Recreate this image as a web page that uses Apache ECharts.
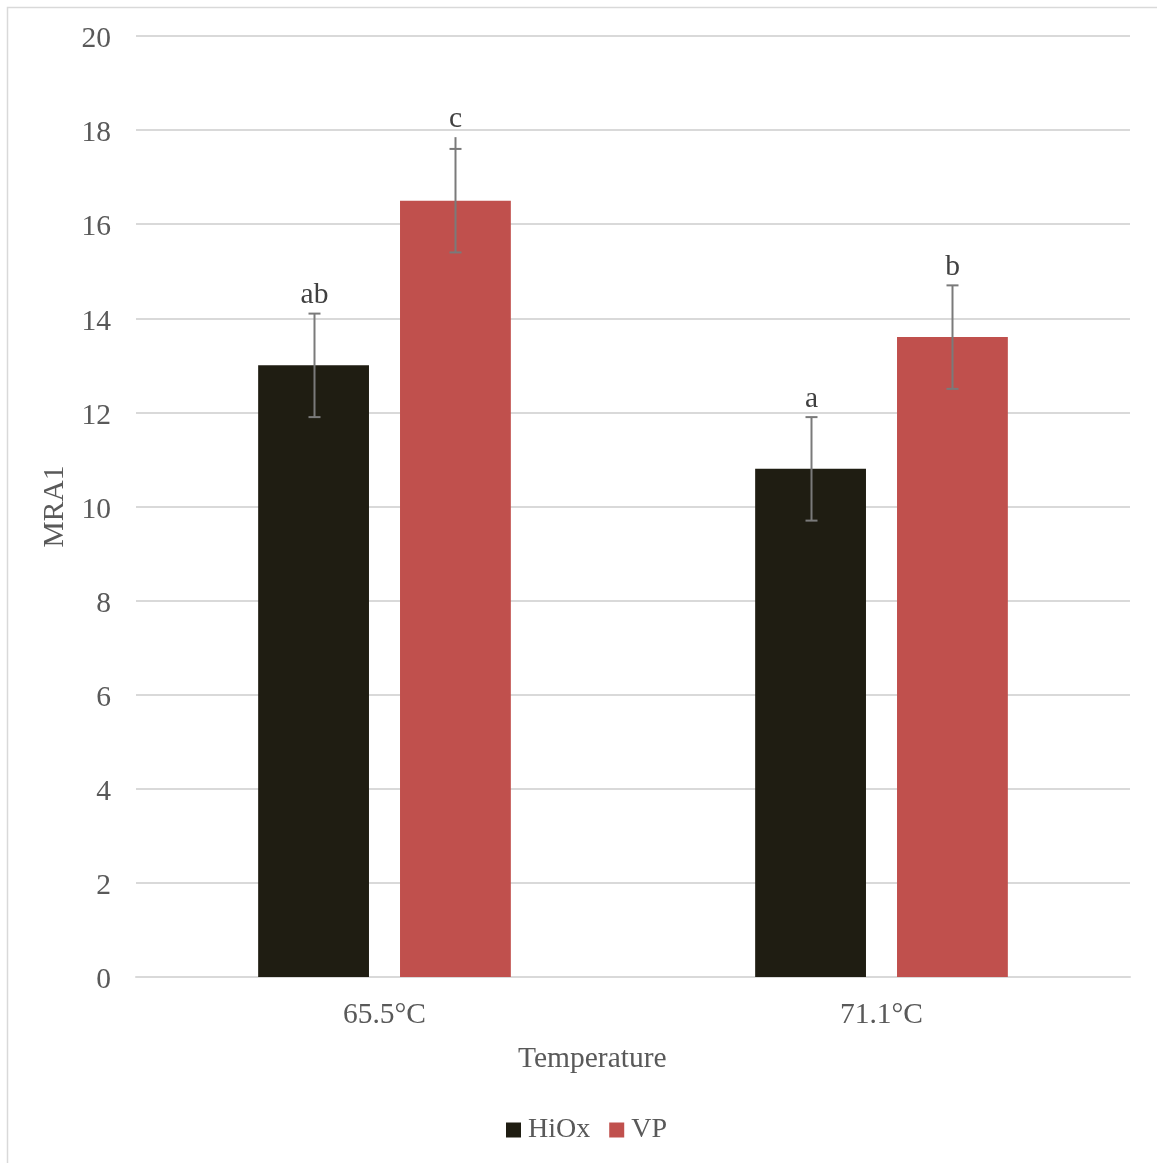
<!DOCTYPE html>
<html>
<head>
<meta charset="utf-8">
<script src="https://cdn.jsdelivr.net/npm/echarts@6/dist/echarts.min.js"></script>
<style>html,body{margin:0;padding:0;background:#fff}#c{width:1157px;height:1163px}</style>
</head>
<body>
<div id="c"></div>
<script>
const categories = ['65.5°C', '71.1°C'];
const seriesNames = ['HiOx', 'VP'];
const hiox = [13.0, 10.8];
const vp = [16.5, 13.6];
const hioxErr = [1.1, 1.1];
const vpErr = [1.1, 1.1];
// stem extends above the cap on one bar in the original
const hioxStemTop = [null, null];
const vpStemTop = [17.85, null];
const hioxLetters = ['ab', 'a'];
const vpLetters = ['c', 'b'];
const yTicks = { min: 0, max: 20, interval: 2 };

const FONT = '"Liberation Serif", "Times New Roman", serif';
const FS = 29.5;
const BAR_W = 0.223, BAR_GAP = 0.28;

function errSeries(values, errs, stemTops, letters, idx) {
  const data = values.map((v, i) => [i, v, errs[i], stemTops[i] == null ? v + errs[i] : stemTops[i]]);
  return {
    type: 'custom',
    z: 5,
    silent: true,
    data: data,
    encode: { x: 0, y: 1 },
    renderItem: function (params, api) {
      const i = api.value(0), v = api.value(1), e = api.value(2), st0 = api.value(3);
      const catW = api.size([1, 0])[0];
      const w = catW * BAR_W;
      const off = (idx === 0 ? -1 : 1) * w * (1 + BAR_GAP) / 2;
      const top = api.coord([i, v + e]);
      const bot = api.coord([i, v - e]);
      const stemTop = api.coord([i, st0]);
      const x = Math.round(top[0] + off) + 0.5;
      const cap = 6;
      const st = { stroke: '#7a7a7a', lineWidth: 2 };
      const ty = Math.min(top[1], stemTop[1]);
      return {
        type: 'group',
        children: [
          { type: 'line', shape: { x1: x, y1: ty, x2: x, y2: bot[1] }, style: st },
          { type: 'line', shape: { x1: x - cap, y1: top[1], x2: x + cap, y2: top[1] }, style: st },
          { type: 'line', shape: { x1: x - cap, y1: bot[1], x2: x + cap, y2: bot[1] }, style: st },
          { type: 'text', style: { text: letters[i], x: x, y: ty - 3, align: 'center', verticalAlign: 'bottom',
              font: FS + 'px ' + FONT, fill: '#404040' } }
        ]
      };
    }
  };
}

const chart = echarts.init(document.getElementById('c'), null, { renderer: 'canvas' });
chart.setOption({
  backgroundColor: '#ffffff',
  animation: false,
  textStyle: { fontFamily: FONT },
  grid: { left: 136, right: 27, top: 36, bottom: 186 },
  graphic: [
    { type: 'rect', shape: { x: 7.5, y: 7.5, width: 1300, height: 1300 }, style: { fill: 'none', stroke: '#d9d9d9', lineWidth: 1.5 }, z: -1 },
    { type: 'text', left: 518, top: 1044, style: { text: 'Temperature', font: FS + 'px ' + FONT, fill: '#595959' } }
  ],
  legend: {
    data: seriesNames,
    left: 506, top: 1116, padding: 0,
    icon: 'rect', itemWidth: 15, itemHeight: 15, itemGap: 19,
    textStyle: { fontSize: 28, color: '#595959', fontFamily: FONT, padding: [0, 0, 0, 2] }
  },
  xAxis: {
    type: 'category',
    data: categories,
    axisLine: { lineStyle: { color: '#d9d9d9', width: 2 } },
    axisTick: { show: false },
    axisLabel: { fontSize: FS, color: '#595959', fontFamily: FONT, margin: 23 }
  },
  yAxis: {
    type: 'value',
    min: yTicks.min, max: yTicks.max, interval: yTicks.interval,
    name: 'MRA1', nameLocation: 'middle', nameGap: 64,
    nameTextStyle: { fontSize: FS, color: '#595959', fontFamily: FONT },
    axisLine: { show: false },
    axisTick: { show: false },
    splitLine: { lineStyle: { color: '#d9d9d9', width: 2 } },
    axisLabel: { color: '#595959', margin: 25,
      formatter: '{a|{value}}',
      rich: { a: { fontSize: FS, color: '#595959', fontFamily: FONT, padding: [7, 0, 0, 0] } } }
  },
  series: [
    { name: 'HiOx', type: 'bar', data: hiox, barWidth: (BAR_W * 100) + '%', barGap: (BAR_GAP * 100) + '%',
      itemStyle: { color: '#1f1d12' } },
    { name: 'VP', type: 'bar', data: vp, barWidth: (BAR_W * 100) + '%', barGap: (BAR_GAP * 100) + '%',
      itemStyle: { color: '#c0504d' } },
    errSeries(hiox, hioxErr, hioxStemTop, hioxLetters, 0),
    errSeries(vp, vpErr, vpStemTop, vpLetters, 1)
  ]
});
</script>
</body>
</html>
